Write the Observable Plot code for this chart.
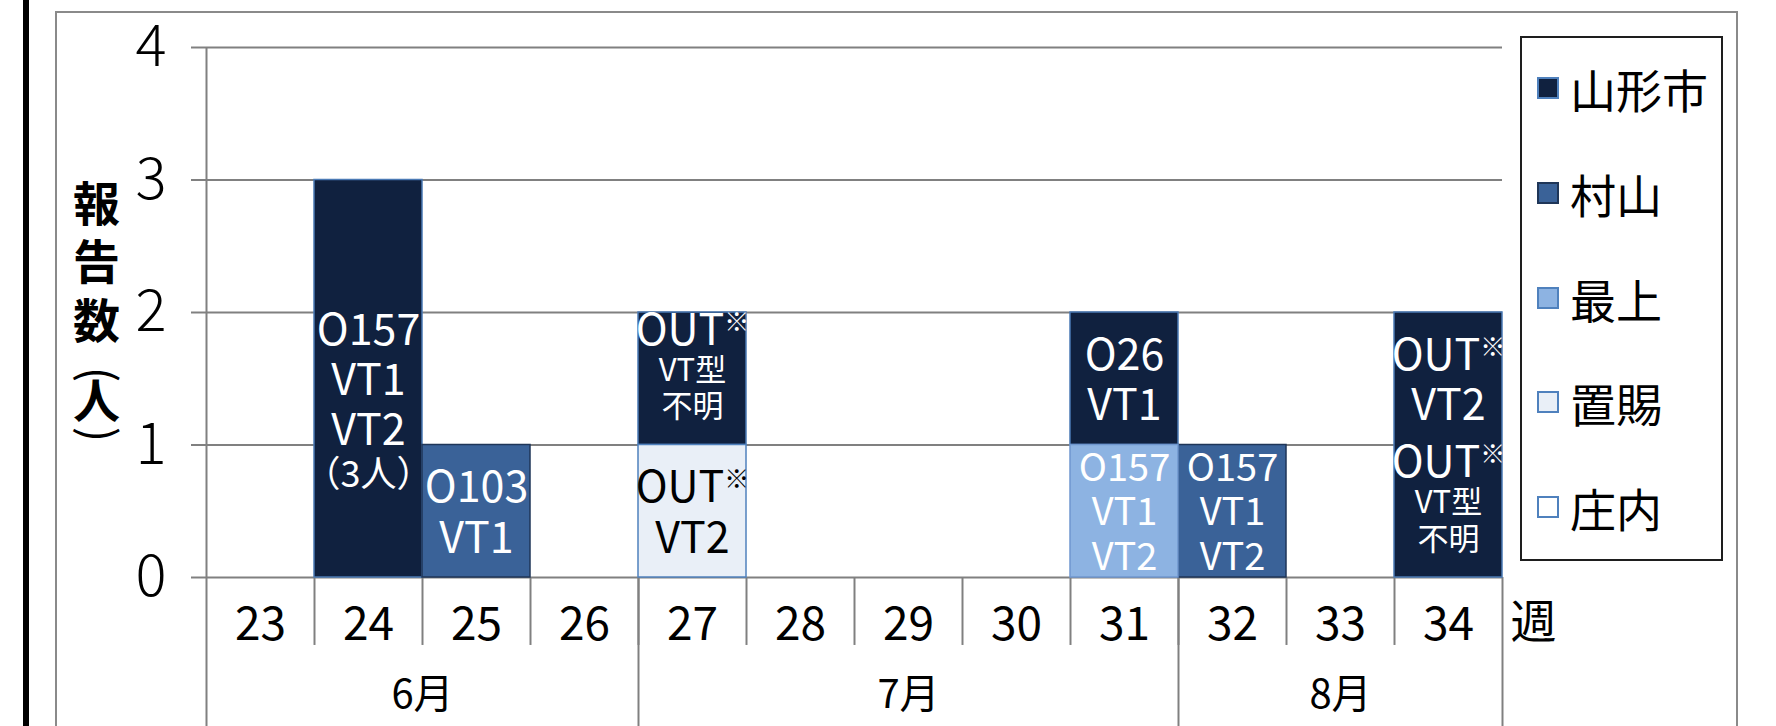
<!DOCTYPE html>
<html>
<head>
<meta charset="utf-8">
<script src="https://cdn.jsdelivr.net/npm/d3@7"></script>
<script src="https://cdn.jsdelivr.net/npm/@observablehq/plot@0.6"></script>
<style>
  html, body { margin: 0; padding: 0; background: #fff; }
  #wrap { position: relative; width: 1776px; height: 726px; overflow: hidden; background: #fff;
          font-family: "Noto Sans CJK JP", "Noto Sans", sans-serif; }
  #wrap svg { position: absolute; left: 0; top: 0; }
  .blackbar { position: absolute; left: 23px; top: 0; width: 6px; height: 726px; background: #000; }
  .frame { position: absolute; left: 55px; top: 11px; width: 1683px; height: 900px; border: 2px solid #8a8a8a; box-sizing: border-box; }
  #legend { position: absolute; left: 1520px; top: 36px; width: 203px; height: 525px; border: 2px solid #1e1e1e;
            box-sizing: border-box; background: #fff; }
  .item { position: absolute; left: 0; height: 60px; display: flex; align-items: center; }
  .sw { position: absolute; left: 15px; width: 22px; height: 22px; box-sizing: border-box; border: 2px solid #4f81bd; }
  .lt { position: absolute; left: 48px; font-size: 46px; line-height: 60px; color: #000; white-space: nowrap; }
</style>
</head>
<body>
<div id="wrap"></div>
<script>
// ---- data ----
const weeks = [23, 24, 25, 26, 27, 28, 29, 30, 31, 32, 33, 34];
const regions = ["山形市", "村山", "最上", "置賜", "庄内"];          // legend order
const regionColors = ["#10213f", "#3a6298", "#8db3e2", "#e9eff7", "#ffffff"];
const regionStrokes = ["#4a7ab5", "#1f3658", "#6f97cf", "#4f81bd", "#4f81bd"];
const labelColors = ["#ffffff", "#ffffff", "#ffffff", "#000000", "#000000"];
const countYamagata = [0, 3, 0, 0, 1, 0, 0, 0, 1, 0, 0, 2];
const countMurayama = [0, 0, 1, 0, 0, 0, 0, 0, 0, 1, 0, 0];
const countMogami   = [0, 0, 0, 0, 0, 0, 0, 0, 1, 0, 0, 0];
const countOkitama  = [0, 0, 0, 0, 1, 0, 0, 0, 0, 0, 0, 0];
const countShonai   = [0, 0, 0, 0, 0, 0, 0, 0, 0, 0, 0, 0];
const labelWeeks   = [24, 25, 27, 27, 31, 31, 32, 34, 34];
const labelRegions = ["山形市", "村山", "置賜", "山形市", "最上", "山形市", "村山", "山形市", "山形市"];
const labelCounts  = [3, 1, 1, 1, 1, 1, 1, 1, 1];
const labelTexts   = ["\nO157\nVT1\nVT2\n（3人）", "O103\nVT1", "OUT※\nVT2", "OUT※\nVT型\n不明",
                      "O157\nVT1\nVT2", "O26\nVT1", "O157\nVT1\nVT2", "OUT※\nVT型\n不明", "OUT※\nVT2"];
const months      = ["6月", "7月", "8月"];
const monthFirst  = [23, 27, 32];
const monthLast   = [26, 31, 34];
const yTicks      = [0, 1, 2, 3, 4];
const yTitleMain  = "報\n告\n数";
const yTitleOpen  = "(";
const yTitleUnit  = "人";
const yTitleClose = ")";
const xUnit       = "週";

// ---- layout ----
const W = 1776, H = 726;
const mL = 206, mR = 274, mT = 47, mB = 149;
const bw = (W - mL - mR) / weeks.length;
const gridColor = "#808080";

const countsByRegion = [countYamagata, countMurayama, countMogami, countOkitama, countShonai];
const fillOf = Object.fromEntries(regions.map((r, i) => [r, regionColors[i]]));
const strokeOf = Object.fromEntries(regions.map((r, i) => [r, regionStrokes[i]]));
const textOf = Object.fromEntries(regions.map((r, i) => [r, labelColors[i]]));
const stackOrder = regions.slice().reverse();

const barTable = [];
regions.forEach((r, ri) => weeks.forEach((w, wi) => {
  const c = countsByRegion[ri][wi];
  if (c > 0) barTable.push({week: w, region: r, count: c});
}));
const labelTable = labelWeeks.map((w, i) => ({week: w, region: labelRegions[i], count: labelCounts[i], label: labelTexts[i]}));
// crowded labels (three full-size lines in one unit) use a smaller size
const isSub = l => /型|不明/.test(l);
const labelSize = d => (d.label.split("\n").filter(l => l && !isSub(l)).length / d.count > 2 ? 38 : 43);

const monthMarks = months.map((m, i) => {
  const fi = weeks.indexOf(monthFirst[i]), li = weeks.indexOf(monthLast[i]);
  const c = (fi + li) / 2, base = Math.floor(c);
  return Plot.text([m], {x: () => weeks[base], frameAnchor: "bottom", dx: (c - base) * bw, dy: 130,
                         fontSize: 40, fill: "#000", text: d => d});
});

const sepBottom = -0.513;   // short week separators end just under the week labels
const longBottom = -1.4;    // month separators run off the bottom
const titleDx = -110;

const plot = Plot.plot({
  width: W, height: H,
  marginLeft: mL, marginRight: mR, marginTop: mT, marginBottom: mB,
  style: {fontFamily: "'Noto Sans CJK JP', 'Noto Sans', sans-serif", background: "transparent", overflow: "visible", color: "#000"},
  x: {type: "band", domain: weeks, padding: 0},
  y: {domain: [0, 4]},
  color: {type: "identity"},
  marks: [
    Plot.ruleY(yTicks, {stroke: gridColor, strokeWidth: 2}),
    Plot.axisY({ticks: yTicks, tickFormat: d => String(d), tickSize: 15, tickPadding: 25, fontSize: 58, fontWeight: 300, label: null,
                stroke: gridColor, strokeWidth: 2, fill: "#000"}),
    Plot.axisX({tickSize: 0, tickPadding: 30, fontSize: 46, label: null, fill: "#000"}),
    // week separators
    Plot.ruleX(weeks.slice(1), {x: d => d, y1: 0, y2: sepBottom, dx: -bw / 2, stroke: gridColor, strokeWidth: 2}),
    // y axis line
    Plot.ruleX([weeks[0]], {x: d => d, y1: 4, y2: longBottom, dx: -bw / 2, stroke: gridColor, strokeWidth: 2}),
    // month separators
    Plot.ruleX(monthFirst.slice(1), {x: d => d, y1: 0, y2: longBottom, dx: -bw / 2, stroke: gridColor, strokeWidth: 2}),
    Plot.ruleX([monthLast[monthLast.length - 1]], {x: d => d, y1: 0, y2: longBottom, dx: bw / 2, stroke: gridColor, strokeWidth: 2}),
    // bars
    Plot.barY(barTable, {x: "week", y: "count", z: "region", order: stackOrder,
                         fill: d => fillOf[d.region], stroke: d => strokeOf[d.region], strokeWidth: 1.5}),
    // bar labels
    Plot.text(labelTable, Plot.stackY({x: "week", y: "count", z: "region", order: stackOrder, text: "label",
                         fill: d => textOf[d.region], fontSize: labelSize, lineHeight: 1.17, ariaDescription: "bar-labels"})),
    ...monthMarks,
    Plot.text([xUnit], {frameAnchor: "bottom-right", dx: 8, dy: 60, textAnchor: "start", fontSize: 46, fill: "#000", text: d => d}),
    // vertical y-axis title
    Plot.text([yTitleMain], {frameAnchor: "left", dx: titleDx, dy: -52, textAnchor: "middle", fontSize: 47, fontWeight: 700, lineHeight: 1.25, fill: "#000", text: d => d}),
    Plot.text([yTitleOpen], {frameAnchor: "left", dx: titleDx, dy: 62, textAnchor: "middle", fontSize: 46, rotate: 90, fill: "#000", text: d => d}),
    Plot.text([yTitleUnit], {frameAnchor: "left", dx: titleDx, dy: 90, textAnchor: "middle", fontSize: 47, fontWeight: 700, fill: "#000", text: d => d}),
    Plot.text([yTitleClose], {frameAnchor: "left", dx: titleDx, dy: 122, textAnchor: "middle", fontSize: 46, rotate: 90, fill: "#000", text: d => d})
  ]
});

// ---- fine-tune label line styles ----
plot.querySelectorAll('g[aria-description="bar-labels"] tspan').forEach(t => {
  const s = t.textContent;
  if (isSub(s)) t.setAttribute("font-size", "31px");
  if (s === "（3人）") { t.setAttribute("font-size", "36px"); }
  if (s.includes("※")) {
    t.textContent = s.replace("※", "");
    const sup = document.createElementNS("http://www.w3.org/2000/svg", "tspan");
    sup.textContent = "※";
    sup.setAttribute("font-size", "25px");
    sup.setAttribute("baseline-shift", "55%");
    t.appendChild(sup);
  }
});

const wrap = document.getElementById("wrap");
wrap.appendChild(plot);
const bb = document.createElement("div"); bb.className = "blackbar"; wrap.appendChild(bb);
const fr = document.createElement("div"); fr.className = "frame"; wrap.appendChild(fr);

// ---- legend ----
const legend = document.createElement("div");
legend.id = "legend";
regions.forEach((r, i) => {
  const item = document.createElement("div");
  item.className = "item";
  item.style.top = (20 + i * 104.8) + "px";
  item.style.width = "100%";
  const sw = document.createElement("div");
  sw.className = "sw";
  sw.style.background = regionColors[i];
  sw.style.borderColor = i === 1 ? "#1f3658" : "#4f81bd";
  const lt = document.createElement("div");
  lt.className = "lt";
  lt.textContent = r;
  item.appendChild(sw); item.appendChild(lt);
  legend.appendChild(item);
});
wrap.appendChild(legend);
</script>
</body>
</html>
